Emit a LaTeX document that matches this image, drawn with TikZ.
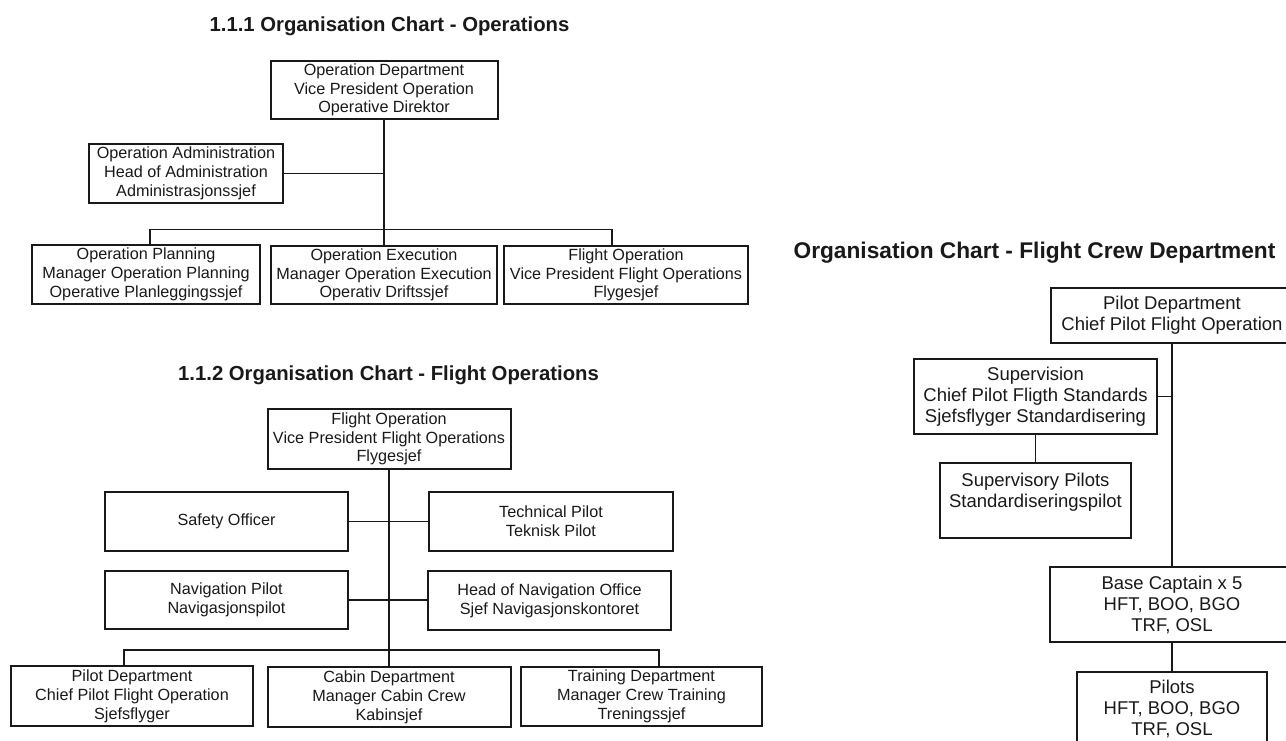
\documentclass[tikz,border=0pt]{standalone}
\usepackage{fontspec}
\setmainfont{Liberation Sans}
\begin{document}
\begin{tikzpicture}[x=1pt,y=-1pt,
  orgbox/.style={draw=black!90, line width=2pt, inner sep=0pt, align=center,
    text=black!90, font=\fontsize{16.2}{18.8}\selectfont},
  crewbox/.style={draw=black!90, line width=2.1pt, inner sep=0pt, align=center,
    text=black!90, font=\fontsize{18.5}{21}\selectfont},
  ttl/.style={font=\bfseries\fontsize{20.3}{24}\selectfont, inner sep=0pt, text=black!90},
  link/.style={draw=black!90, line width=1.9pt}]
\useasboundingbox (0,0) rectangle (1286,740);
\clip (0,0) rectangle (1286,740);

% ---------- Chart 1 ----------
\node[ttl] (t1) at (389.5,26) {1.1.1 Organisation Chart - Operations};
\node[orgbox, minimum width=227pt, minimum height=58pt] (opdept) at (384,90)
  {Operation Department\\Vice President Operation\\Operative Direktor};
\node[orgbox, minimum width=194pt, minimum height=59pt] (opadmin) at (186,173.5)
  {Operation Administration\\Head of Administration\\Administrasjonssjef};
\node[orgbox, minimum width=228pt, minimum height=59pt] (opplan) at (146,274.5)
  {Operation Planning\\Manager Operation Planning\\Operative Planleggingssjef};
\node[orgbox, minimum width=226pt, minimum height=58pt] (opexec) at (384,275)
  {Operation Execution\\Manager Operation Execution\\Operativ Driftssjef};
\node[orgbox, minimum width=244pt, minimum height=58pt] (flop1) at (626,275)
  {Flight Operation\\Vice President Flight Operations\\Flygesjef};
\coordinate (b1L) at (150,229.5);
\coordinate (b1R) at (612,229.5);
\draw[link] (opdept.south) -- (opexec.north);
\draw[link] (opadmin.east) -- (opadmin.east -| opdept.south);
\draw[link] (opplan.north -| b1L) -- (b1L) -- (b1R) -- (b1R |- flop1.north);

% ---------- Chart 2 ----------
\node[ttl] (t2) at (388.5,375) {1.1.2 Organisation Chart - Flight Operations};
\node[orgbox, minimum width=243pt, minimum height=60pt] (flop2) at (389,439)
  {Flight Operation\\Vice President Flight Operations\\Flygesjef};
\node[orgbox, minimum width=243pt, minimum height=59pt] (safety) at (226.5,521.5)
  {Safety Officer};
\node[orgbox, minimum width=244pt, minimum height=59pt] (tech) at (551,521)
  {Technical Pilot\\Teknisk Pilot};
\node[orgbox, minimum width=243pt, minimum height=58pt] (navp) at (226.5,600)
  {Navigation Pilot\\Navigasjonspilot};
\node[orgbox, minimum width=243pt, minimum height=59pt] (headnav) at (549.5,600.5)
  {Head of Navigation Office\\Sjef Navigasjonskontoret};
\node[orgbox, minimum width=242pt, minimum height=60pt] (pilotd2) at (132,696)
  {Pilot Department\\Chief Pilot Flight Operation\\Sjefsflyger};
\node[orgbox, minimum width=243pt, minimum height=60pt] (cabin) at (389,697)
  {Cabin Department\\Manager Cabin Crew\\Kabinsjef};
\node[orgbox, minimum width=241pt, minimum height=59pt] (train) at (641.5,696.5)
  {Training Department\\Manager Crew Training\\Treningssjef};
\coordinate (b2L) at (124,650);
\coordinate (b2R) at (659,650);
\draw[link] (flop2.south) -- (cabin.north);
\draw[link] (safety.east) -- (safety.east -| tech.west);
\draw[link] (navp.east) -- (navp.east -| headnav.west);
\draw[link] (pilotd2.north -| b2L) -- (b2L) -- (b2R) -- (b2R |- train.north);

% ---------- Chart 3 ----------
\node[ttl, font=\bfseries\fontsize{22.7}{26}\selectfont] (t3) at (1034.5,253)
  {Organisation Chart - Flight Crew Department};
\node[crewbox, minimum width=242pt, minimum height=55pt] (pilotd3) at (1172,315.5)
  {Pilot Department\\Chief Pilot Flight Operation};
\node[crewbox, minimum width=243pt, minimum height=75pt] (superv) at (1035.5,396.5)
  {Supervision\\Chief Pilot Fligth Standards\\Sjefsflyger Standardisering};
\node[crewbox, minimum width=191pt, minimum height=75pt] (supp) at (1035.5,500.5)
  {Supervisory Pilots\\Standardiseringspilot\\\mbox{}};
\node[crewbox, minimum width=244pt, minimum height=75pt] (basecap) at (1172,604.5)
  {Base Captain x 5\\HFT, BOO, BGO\\TRF, OSL};
\node[crewbox, minimum width=190pt, minimum height=73pt] (pilots) at (1172,708.5)
  {Pilots\\HFT, BOO, BGO\\TRF, OSL};
\draw[link] (pilotd3.south) -- (basecap.north);
\draw[link] (superv.east) -- (superv.east -| pilotd3.south);
\draw[link] (superv.south) -- (supp.north);
\draw[link] (basecap.south) -- (pilots.north);
\end{tikzpicture}
\end{document}
